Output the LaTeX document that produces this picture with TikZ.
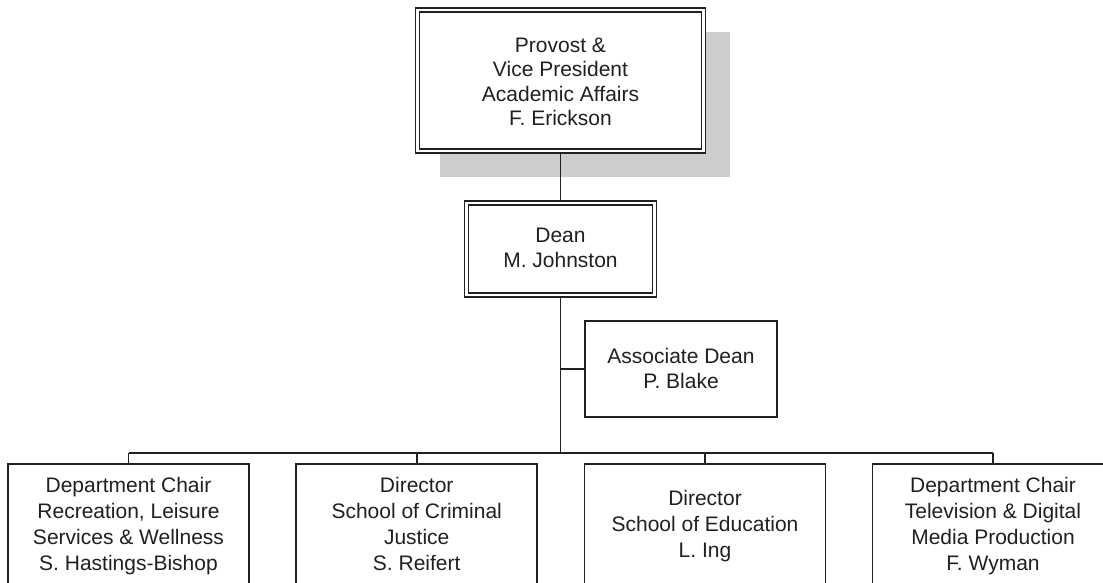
\documentclass[tikz,border=0pt]{standalone}
\usepackage{fontspec}
\setmainfont{Liberation Sans}
\definecolor{ink}{HTML}{231F20}
\definecolor{shadowgray}{HTML}{CCCDCF}
\tikzset{
  box/.style={draw=ink, line width=1.8pt, rectangle, inner sep=0pt, fill=white},
  innerline/.style={draw=ink, line width=1.3pt},
  conn/.style={draw=ink, line width=1.7pt},
  txt/.style={text=ink, align=center, inner sep=0pt},
  fA/.style={font=\fontsize{21}{24.3}\selectfont},
  fB/.style={font=\fontsize{21}{25}\selectfont},
  fC/.style={font=\fontsize{21}{26}\selectfont}
}
\begin{document}
\begin{tikzpicture}[x=1pt,y=-1pt]
\clip (0,0) rectangle (1103,582);
% shadow
\fill[shadowgray] (440,32) rectangle (730,177);
% top box
\node[box, minimum width=290pt, minimum height=145pt] (prov) at (560.5,80.5) {};
\draw[innerline] ([shift={(5,5)}]prov.north west) rectangle ([shift={(-5,-5)}]prov.south east);
\node[txt, fA] (provT) at (560.5,81.9) {Provost \&\\Vice President\\Academic Affairs\\F. Erickson};
% dean
\node[box, minimum width=192pt, minimum height=96pt] (dean) at (560.5,249) {};
\draw[innerline] ([shift={(5,5)}]dean.north west) rectangle ([shift={(-5,-5)}]dean.south east);
\node[txt, fB] (deanT) at (560.5,248) {Dean\\M. Johnston};
% associate dean
\node[box, minimum width=192pt, minimum height=96pt] (assoc) at (681,369) {};
\node[txt, fB] (assocT) at (681,368) {Associate Dean\\P. Blake};
% bottom boxes
\node[box, minimum width=241pt, minimum height=150pt] (b1) at (128.5,539) {};
\node[box, minimum width=241pt, minimum height=150pt] (b2) at (416.7,539) {};
\node[box, minimum width=241pt, minimum height=150pt] (b3) at (705,539) {};
\node[box, minimum width=241pt, minimum height=150pt] (b4) at (993,539) {};
\node[txt, fC] (b1T) at (128.5,526.5) {Department Chair\\Recreation, Leisure\\Services \& Wellness\\S. Hastings-Bishop};
\node[txt, fC] (b2T) at (416.7,524.3) {Director\\School of Criminal\\Justice\\S. Reifert};
\node[txt, fC] (b3T) at (705,525.6) {Director\\School of Education\\L. Ing};
\node[txt, fC] (b4T) at (993,526.5) {Department Chair\\Television \& Digital\\Media Production\\F. Wyman};
% connectors
\coordinate (bus) at (560.5,453);
\draw[conn] (prov.south) -- (dean.north);
\draw[conn] (dean.south) -- (bus);
\draw[conn] (dean.south |- assoc.west) -- (assoc.west);
\draw[conn] (b1.north |- bus) -- (b4.north |- bus);
\draw[conn] (b1.north |- bus) -- (b1.north);
\draw[conn] (b2.north |- bus) -- (b2.north);
\draw[conn] (b3.north |- bus) -- (b3.north);
\draw[conn] (b4.north |- bus) -- (b4.north);
\end{tikzpicture}
\end{document}
